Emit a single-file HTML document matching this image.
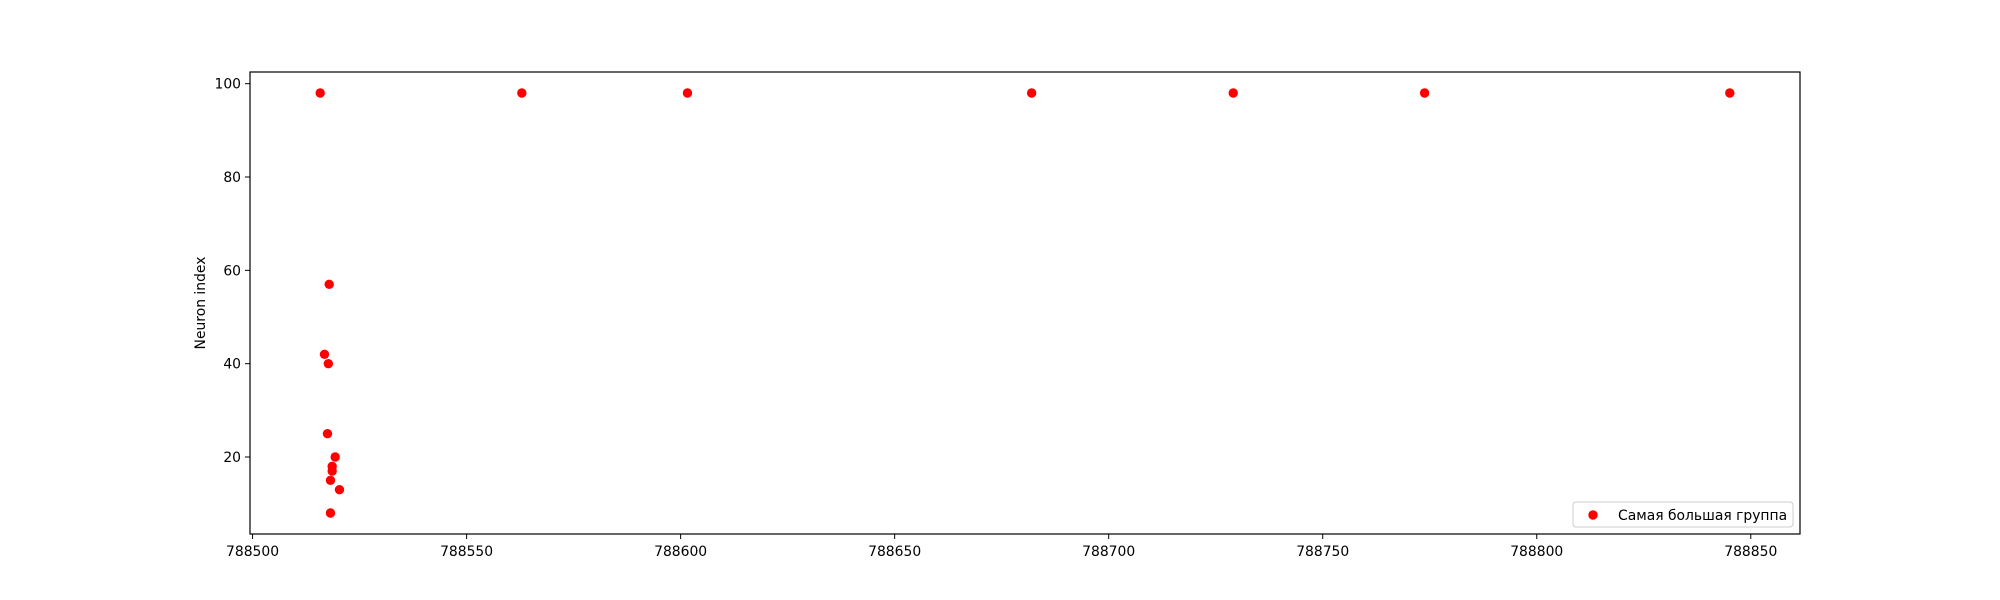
<!DOCTYPE html>
<html><head><meta charset="utf-8"><style>body{margin:0;background:#fff}svg{display:block}text{font-family:"DejaVu Sans","Liberation Sans",sans-serif;font-size:13.9px;fill:#000}</style></head>
<body>
<svg id="chart" width="2000" height="600"></svg>
<script>
const xValues=[788515.8,788562.9,788601.6,788682,788729.1,788773.8,788845.1,788517.9,788516.8,788517.7,788517.5,788519.3,788518.6,788518.6,788518.2,788520.3,788518.2];
const yValues=[98,98,98,98,98,98,98,57,42,40,25,20,18,17,15,13,8];
const xTicks=[788500,788550,788600,788650,788700,788750,788800,788850];
const yTicks=[20,40,60,80,100];
const L=250,R=1800,T=72,B=534;
const xmin=788499.4,xmax=788861.5,ymin=3.5,ymax=102.5;
const sx=v=>L+(v-xmin)/(xmax-xmin)*(R-L);
const sy=v=>B-(v-ymin)/(ymax-ymin)*(B-T);
const svg=document.getElementById('chart');const NS='http://www.w3.org/2000/svg';
function mk(t,a,p){const e=document.createElementNS(NS,t);for(const k in a)e.setAttribute(k,a[k]);(p||svg).appendChild(e);return e;}
xValues.forEach((x,i)=>{const c=mk('circle',{cx:sx(x),cy:sy(yValues[i]),r:4.7,fill:'#ff0000'});

});
const frame=mk('rect',{x:L,y:T,width:R-L,height:B-T,fill:'none',stroke:'#000','stroke-width':1.2});


xTicks.forEach(v=>{const x=sx(v);mk('line',{x1:x,x2:x,y1:B,y2:B+5,stroke:'#000'});
const t=mk('text',{x:x,y:B+22,'text-anchor':'middle'});t.textContent=v;

});
yTicks.forEach(v=>{const y=sy(v);mk('line',{x1:L-5,x2:L,y1:y,y2:y,stroke:'#000'});
const t=mk('text',{x:L-9,y:y+5,'text-anchor':'end'});t.textContent=v;

});
const yl=mk('text',{x:0,y:0,'text-anchor':'middle',transform:'translate(205,'+((T+B)/2)+') rotate(-90)'});yl.textContent='Neuron index';


const lg=mk('g',{});


mk('rect',{x:1573,y:502,width:220,height:25,rx:3,fill:'#fff',stroke:'#ccc'},lg);
mk('circle',{cx:1593,cy:515,r:4.7,fill:'#ff0000'},lg);
const lt=mk('text',{x:1618,y:520},lg);lt.textContent='Самая большая группа';


</script>
</body></html>
